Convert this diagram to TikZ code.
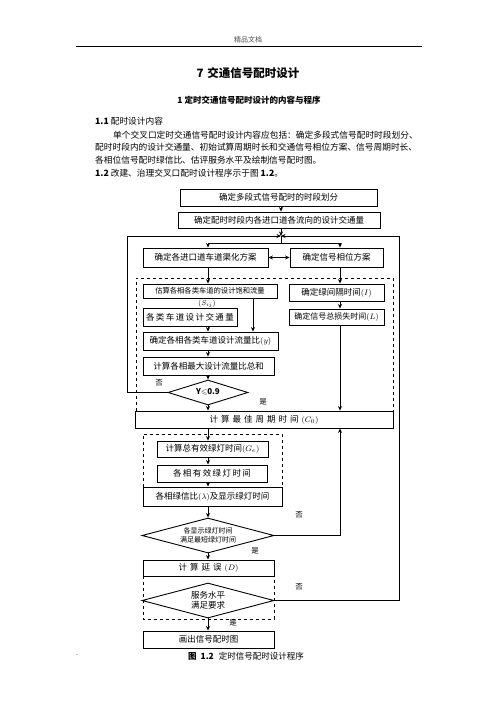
\documentclass[tikz,border=0pt]{standalone}
\usepackage{amsmath,amssymb}
\usepackage{fontspec}
\setmainfont{Noto Sans CJK SC}
\usetikzlibrary{arrows.meta,shapes.geometric}

\tikzset{
  procbox/.style 2 args={draw,line width=0.9pt,minimum width=#1,minimum height=#2,inner sep=0pt,
    font=\fontsize{8.5}{10}\selectfont},
  testbox/.style 2 args={draw,diamond,aspect=3,line width=0.9pt,minimum width=#1,minimum height=#2,
    inner sep=0pt,font=\fontsize{8.5}{10}\selectfont,align=center},
  groupbox/.style={dashed,line width=0.8pt},
  flow/.style={-{Stealth[length=4.5pt,width=4pt]},line width=0.8pt},
  lbl/.style={font=\fontsize{7.5}{9}\selectfont},
  para/.style={anchor=west,inner sep=0pt,font=\fontsize{8.7}{10}\selectfont}
}

\begin{document}
\begin{tikzpicture}[x=1pt,y=-1pt]
  \useasboundingbox (0,0) rectangle (496,702);

  %page head and text
  \node[font=\fontsize{7}{8}\selectfont,text=black!70] (head) at (248,40) {精品文档};
  \draw[line width=0.8pt] (76,46) -- (422,46);
  \node[font=\fontsize{11.5}{13}\selectfont\bfseries] (title) at (248,73) {7\hspace{4pt}交通信号配时设计};
  \node[font=\fontsize{8.5}{10}\selectfont\bfseries] (sect) at (249,100) {1 定时交通信号配时设计的内容与程序};
  \node[para] (p0) at (95,121) {\textbf{1.1} 配时设计内容};
  \node[para] (p1) at (113,135) {单个交叉口定时交通信号配时设计内容应包括：确定多段式信号配时时段划分、};
  \node[para] (p2) at (95,147.5) {配时时段内的设计交通量、初始试算周期时长和交通信号相位方案、信号周期时长、};
  \node[para] (p3) at (95,160) {各相位信号配时绿信比、估评服务水平及绘制信号配时图。};
  \node[para] (p4) at (95,173) {\textbf{1.2} 改建、治理交叉口配时设计程序示于图 \textbf{1.2}。};

  %guide coordinates
  \coordinate (mainx) at (208,0);
  \coordinate (rightx) at (340,0);
  \coordinate (sidex) at (253,0);
  \coordinate (jn) at (281,236);
  \coordinate (split) at (281,243);
  \coordinate (outL) at (127,236);
  \coordinate (outR) at (399,236);

  %dashed groups
  \draw[groupbox] (136,411) -- (136,278) -- (393,278) -- (393,411);
  \draw[groupbox] (143,487) -- (143,434) -- (282,434) -- (282,487);
  \draw[groupbox] (143,576) rectangle (274,619);

  %boxes
  \node[procbox={197pt}{17pt}] (b1) at (278.5,197.5) {确定多段式信号配时的时段划分};
  \node[procbox={202pt}{16pt}] (b2) at (279,220) {确定配时时段内各进口道各流向的设计交通量};
  \node[procbox={125pt}{19pt}] (b3) at (205.5,257.5) {确定各进口道车道渠化方案};
  \node[procbox={93pt}{19pt}] (b4) at (336.5,257.5) {确定信号相位方案};
  \node[procbox={134pt}{14pt},font=\fontsize{7.3}{9}\selectfont] (b5) at (210,291) {估算各相各类车道的设计饱和流量};
  \node[font=\fontsize{7.5}{9}\selectfont,inner sep=0pt] (sij) at (207,304) {$(S_{ij})$};
  \node[procbox={95pt}{17pt}] (b6) at (336.5,292.5) {确定绿间隔时间$(I)$};
  \node[procbox={94pt}{18pt}] (b7) at (190,317) {各\,类\,车\,道\,设\,计\,交\,通\,量};
  \node[procbox={95pt}{16pt},font=\fontsize{8}{10}\selectfont] (b8) at (336.5,317) {确定信号总损失时间$(L)$};
  \node[procbox={135pt}{18pt}] (b9) at (210.5,341) {确定各相各类车道设计流量比$(y)$};
  \node[procbox={131pt}{18pt}] (b10) at (208.5,366) {计算各相最大设计流量比总和};
  \node[testbox={80pt}{25pt},font=\fontsize{8}{10}\selectfont\bfseries] (dia1) at (208,392.5) {Y$\leqslant$0.9};
  \node[procbox={258pt}{17pt}] (c0) at (264,419.5)
    {计\hspace{3pt}算\hspace{3pt}最\hspace{3pt}佳\hspace{3pt}周\hspace{3pt}期\hspace{3pt}时\hspace{3pt}间\hspace{3pt}$(C_0)$};
  \node[procbox={111pt}{16pt}] (b11) at (212.5,449) {计算总有效绿灯时间$(G_e)$};
  \node[procbox={110pt}{17pt}] (b12) at (212,473.5) {各\,相\,有\,效\,绿\,灯\,时\,间};
  \node[procbox={139pt}{19pt}] (b13) at (212.5,496.5) {各相绿信比$(\lambda)$及显示绿灯时间};
  \node[testbox={132pt}{35pt},font=\fontsize{7}{9}\selectfont] (dia2) at (208,535.5) {各显示绿灯时间\\满足最短绿灯时间};
  \node[procbox={131pt}{16pt}] (b14) at (208.5,568) {计\hspace{3pt}算\hspace{3pt}延\hspace{3pt}误\hspace{3pt}$(D)$};
  \node[testbox={132pt}{35pt}] (dia3) at (208,600.5) {服务水平\\满足要求};
  \node[procbox={131pt}{17pt}] (b15) at (208.5,639.5) {画出信号配时图};

  %connectors
  \draw[flow] (b1.south -| jn) -- (b2.north -| jn);
  \draw[flow] (b2.south -| jn) -- (jn);
  \draw[flow] (dia1.west) -- (dia1.west -| outL) -- (outL) -- (jn);
  \draw[flow] (dia3.east) -- (dia3.east -| outR) -- (outR) -- (jn);
  \draw[line width=0.8pt] (jn) -- (split);
  \draw[flow] (split) -| (b3.north -| mainx);
  \draw[flow] (split) -| (b4.north -| rightx);
  \draw[{Stealth[length=4.5pt,width=4pt]}-{Stealth[length=4.5pt,width=4pt]},line width=0.8pt] (b3.east) -- (b4.west);
  \draw[flow] (b3.south -| mainx) -- (b5.north -| mainx);
  \draw[flow] (b4.south -| rightx) -- (b6.north -| rightx);
  \draw[flow] (b6.south -| rightx) -- (b8.north -| rightx);
  \draw[flow] (b8.south -| rightx) -- (c0.north -| rightx);
  \draw[flow] (b5.south -| sidex) -- (b9.north -| sidex);
  \draw[flow] (b7.south -| mainx) -- (b9.north -| mainx);
  \draw[flow] (b9.south -| mainx) -- (b10.north -| mainx);
  \draw[flow] (b10.south -| mainx) -- (dia1.north);
  \draw[flow] (dia1.south) -- (c0.north -| mainx);
  \draw[flow] (c0.south -| mainx) -- (b11.north -| mainx);
  \draw[flow] (b11.south -| mainx) -- (b12.north -| mainx);
  \draw[flow] (b12.south -| mainx) -- (b13.north -| mainx);
  \draw[flow] (b13.south -| mainx) -- (dia2.north);
  \draw[flow] (dia2.south) -- (b14.north -| mainx);
  \draw[flow] (dia2.east) -| (c0.south -| rightx);
  \draw[flow] (dia3.south) -- (b15.north -| mainx);

  %branch labels
  \node[lbl] (no1) at (159,383) {否};
  \node[lbl] (yes1) at (263,402) {是};
  \node[lbl] (no2) at (299,515) {否};
  \node[lbl] (yes2) at (255,551) {是};
  \node[lbl] (no3) at (299,587) {否};
  \node[lbl] (yes3) at (233,623) {是};

  %caption
  \node[font=\fontsize{8.5}{10}\selectfont] (cap) at (246,656) {\textbf{图\hspace{4pt}1.2}\hspace{5pt}定时信号配时设计程序};
  \node[font=\fontsize{7}{8}\selectfont] (dot) at (77,655) {.};
\end{tikzpicture}
\end{document}
